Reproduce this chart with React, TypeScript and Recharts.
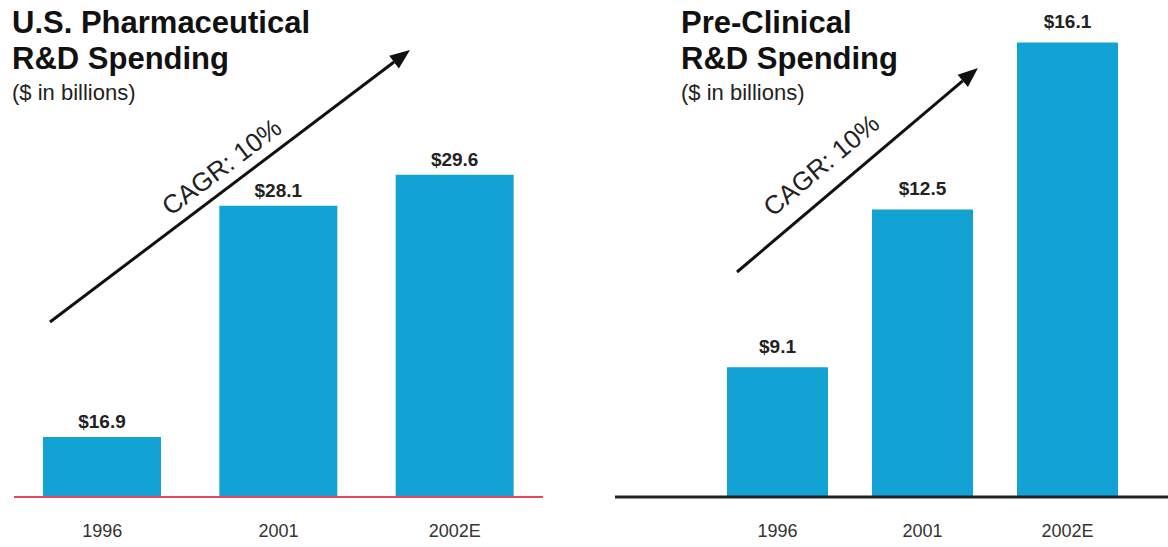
import { BarChart, Bar, XAxis, YAxis, LabelList } from 'recharts';

const years = ['1996', '2001', '2002E'];
const usPharmaSpend = [16.9, 28.1, 29.6];
const preClinicalSpend = [9.1, 12.5, 16.1];

const BAR_COLOR = '#12A2D4';
const FONT = '"Liberation Sans", Arial, Helvetica, sans-serif';

const usData = years.map((year, i) => ({ year, value: usPharmaSpend[i] }));
const preData = years.map((year, i) => ({ year, value: preClinicalSpend[i] }));

interface PanelProps {
  data: { year: string; value: number }[];
  width: number;
  domain: [number, number];
  margin: { top: number; right: number; bottom: number; left: number };
  padding?: { left: number; right: number };
  barSize: number;
  labelOffset: number;
  axisColor: string;
  axisWidth: number;
}

function SpendPanel({ data, width, domain, margin, padding, barSize, labelOffset, axisColor, axisWidth }: PanelProps) {
  return (
    <BarChart width={width} height={547} data={data} margin={margin}>
      <XAxis
        dataKey="year"
        interval={0}
        height={50}
        padding={padding}
        tickLine={false}
        tickMargin={21}
        axisLine={{ stroke: axisColor, strokeWidth: axisWidth }}
        tick={{ fill: '#333', fontSize: 18, fontFamily: FONT }}
      />
      <YAxis hide type="number" domain={domain} allowDataOverflow />
      <Bar dataKey="value" fill={BAR_COLOR} barSize={barSize} isAnimationActive={false}>
        <LabelList
          dataKey="value"
          position="top"
          offset={labelOffset}
          formatter={(v: number) => `$${v}`}
          style={{ fill: '#222', fontSize: 19, fontWeight: 700, fontFamily: FONT }}
        />
      </Bar>
    </BarChart>
  );
}

// arrow from (x1,y1) to tip (x2,y2)
function Arrow({ x1, y1, x2, y2 }: { x1: number; y1: number; x2: number; y2: number }) {
  const ang = Math.atan2(y2 - y1, x2 - x1);
  const len = 20;
  const half = 8;
  const bx = x2 - len * Math.cos(ang);
  const by = y2 - len * Math.sin(ang);
  const px = -Math.sin(ang) * half;
  const py = Math.cos(ang) * half;
  return (
    <g>
      <line x1={x1} y1={y1} x2={bx} y2={by} stroke="#111" strokeWidth={3} />
      <polygon points={`${x2},${y2} ${bx + px},${by + py} ${bx - px},${by - py}`} fill="#111" />
    </g>
  );
}

function Title({ x, lines }: { x: number; lines: string[] }) {
  return (
    <g fontFamily={FONT} fill="#111">
      <text x={x} y={33} fontSize={31} fontWeight={700}>{lines[0]}</text>
      <text x={x} y={69} fontSize={31} fontWeight={700}>{lines[1]}</text>
      <text x={x} y={100} fontSize={22} fill="#222">($ in billions)</text>
    </g>
  );
}

export default function App() {
  return (
    <div style={{ position: 'absolute', left: 0, top: 0, width: 1168, height: 547, background: '#fff', overflow: 'hidden' }}>
      <div style={{ position: 'absolute', left: 0, top: 0 }}>
        <SpendPanel
          data={usData}
          width={560}
          domain={[14, 37]}
          margin={{ top: 22, right: 17, bottom: 0, left: 14 }}
          barSize={118}
          labelOffset={9}
          axisColor="#E0485C"
          axisWidth={2}
        />
      </div>
      <div style={{ position: 'absolute', left: 560, top: 0 }}>
        <SpendPanel
          data={preData}
          width={608}
          domain={[6.3, 16.8]}
          margin={{ top: 10, right: 0, bottom: 0, left: 55 }}
          padding={{ left: 90, right: 28 }}
          barSize={101}
          labelOffset={14}
          axisColor="#222"
          axisWidth={3}
        />
      </div>
      <svg width={1168} height={547} style={{ position: 'absolute', left: 0, top: 0, pointerEvents: 'none' }}>
        <Title x={12} lines={['U.S. Pharmaceutical', 'R&D Spending']} />
        <Title x={681} lines={['Pre-Clinical', 'R&D Spending']} />
        <Arrow x1={50} y1={322} x2={410} y2={50} />
        <Arrow x1={737} y1={272} x2={978} y2={68} />
        <text x={227} y={174} fontSize={26} fontFamily={FONT} fill="#222" textAnchor="middle" transform="rotate(-37 227 174)">CAGR: 10%</text>
        <text x={827} y={172} fontSize={26} fontFamily={FONT} fill="#222" textAnchor="middle" transform="rotate(-40 827 172)">CAGR: 10%</text>
      </svg>
    </div>
  );
}
